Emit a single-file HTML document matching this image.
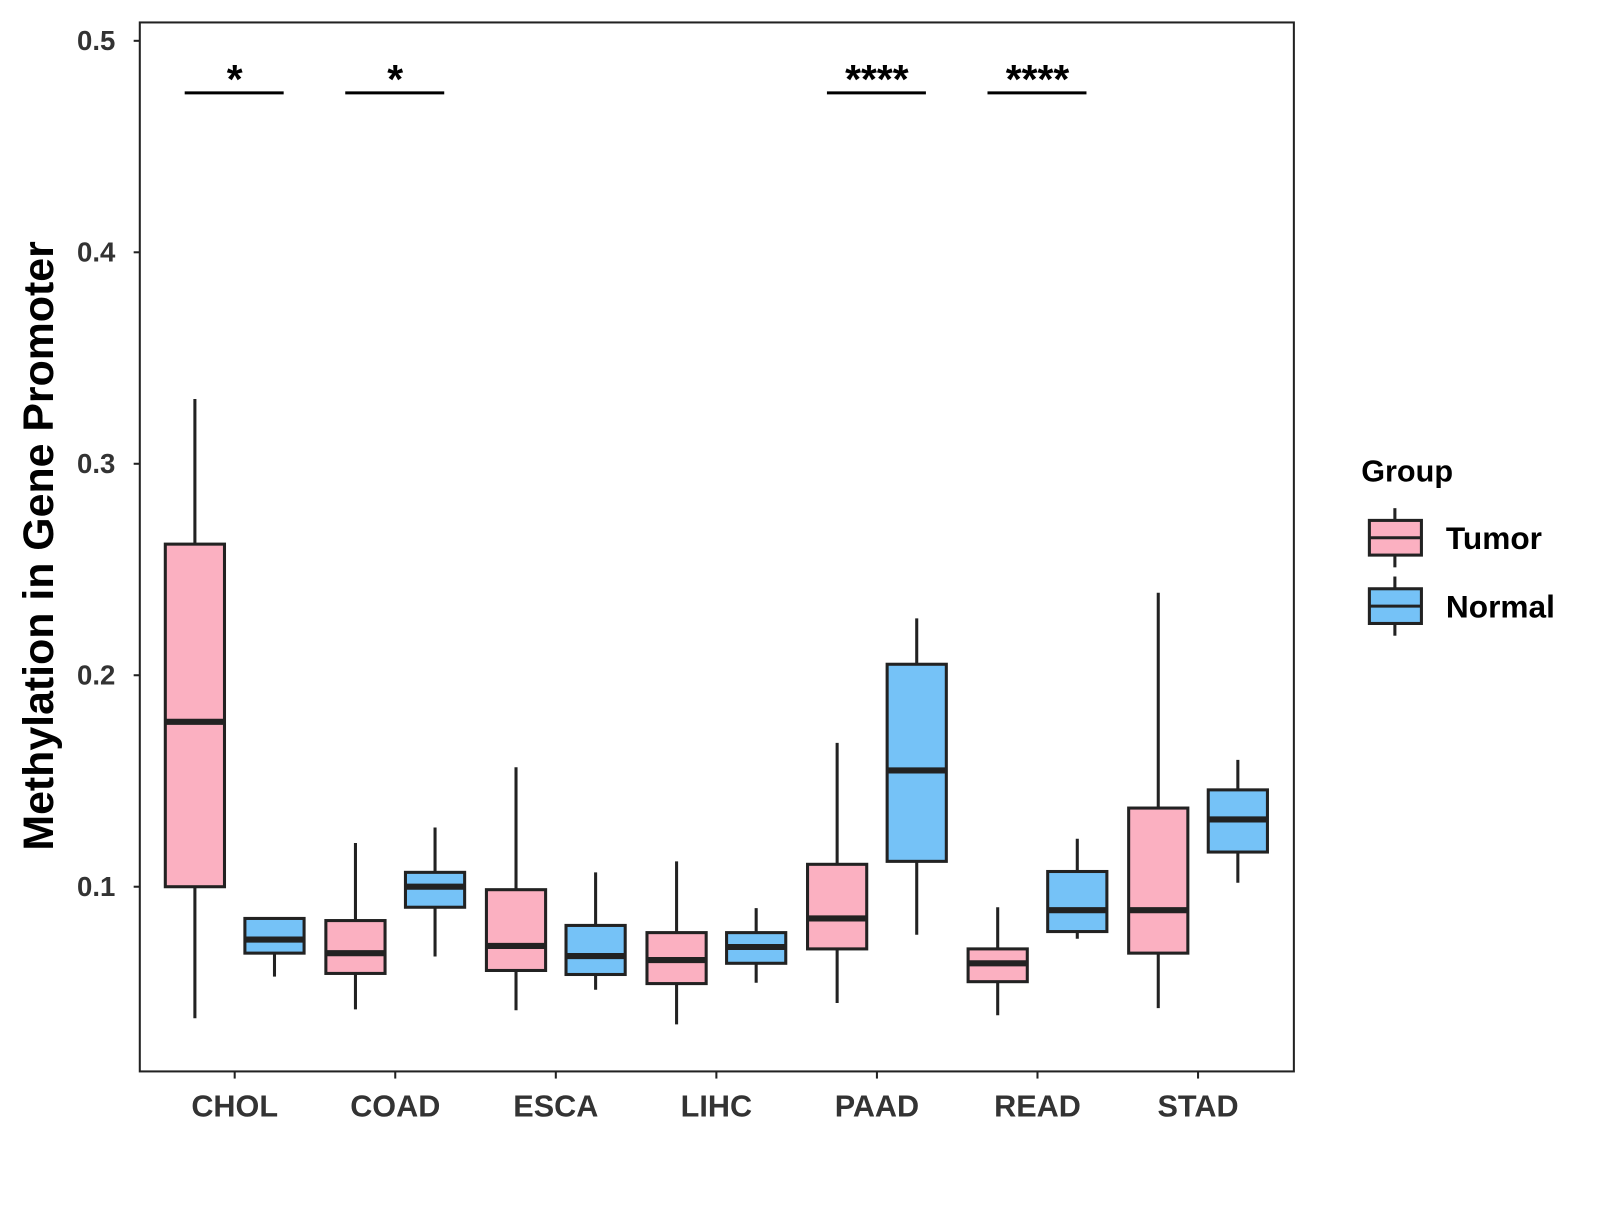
<!DOCTYPE html>
<html><head><meta charset="utf-8"><style>
body{margin:0;background:#fff}
text{font-family:"Liberation Sans",Arial,sans-serif;font-weight:bold}
</style></head><body>
<svg id="chart" width="1600" height="1200" xmlns="http://www.w3.org/2000/svg">
<g transform="scale(1.0204)">
<rect x="137" y="22" width="1131" height="1028" fill="#fff" stroke="#222" stroke-width="2"/>
<g id="marks"></g>
<text x="38" y="535" font-size="42" fill="#000" text-anchor="middle" dominant-baseline="central" transform="rotate(-90 38 535)">Methylation in Gene Promoter</text>
<g>
<text x="1334" y="472" font-size="30" fill="#000">Group</text>
<g>
<line x1="1367" y1="498" x2="1367" y2="556" stroke="#222" stroke-width="3"/>
<rect x="1342" y="510" width="51" height="34" fill="#FBB0C1" stroke="#222" stroke-width="3"/>
<line x1="1342" y1="527" x2="1393" y2="527" stroke="#222" stroke-width="3"/>
<text x="1417" y="538" font-size="31" fill="#000">Tumor</text></g>
<g>
<line x1="1367" y1="565" x2="1367" y2="623" stroke="#222" stroke-width="3"/>
<rect x="1342" y="577" width="51" height="34" fill="#75C2F7" stroke="#222" stroke-width="3"/>
<line x1="1342" y1="594" x2="1393" y2="594" stroke="#222" stroke-width="3"/>
<text x="1417" y="605" font-size="31" fill="#000">Normal</text></g>
</g>
</g>
</svg>
<script>
const categories=["CHOL","COAD","ESCA","LIHC","PAAD","READ","STAD"];
// [lowWhisker, Q1, median, Q3, highWhisker]
const tumorStats=[[0.0378,0.1,0.178,0.262,0.3306],[0.042,0.059,0.0686,0.084,0.1207],[0.0416,0.0604,0.072,0.0986,0.1565],[0.0349,0.0542,0.0653,0.0783,0.112],[0.045,0.0706,0.085,0.1106,0.168],[0.0392,0.0551,0.0638,0.0706,0.0903],[0.0426,0.0686,0.0889,0.1372,0.239]];
const normalStats=[[0.0575,0.0686,0.075,0.085,0.085],[0.067,0.0903,0.1,0.1068,0.128],[0.0513,0.0585,0.0672,0.0817,0.1068],[0.0546,0.0638,0.0715,0.0783,0.0899],[0.0773,0.112,0.155,0.2052,0.2269],[0.0754,0.0788,0.0889,0.1072,0.1227],[0.1019,0.1164,0.1318,0.1458,0.16]];
const significance=["*","*","","","****","****",""];
const yTicks=[0.1,0.2,0.3,0.4,0.5];
const NS="http://www.w3.org/2000/svg";
const y=v=>869-(v-0.1)*2072.5;
const x=i=>230+i*157.35;
const g=document.getElementById('marks');
function mk(t,a,p){const e=document.createElementNS(NS,t);for(const k in a)e.setAttribute(k,a[k]);(p||g).appendChild(e);return e;}
yTicks.forEach(v=>{
 const tk=mk('line',{x1:131,x2:137,y1:y(v),y2:y(v),stroke:'#222','stroke-width':2});
 
 
 const t=mk('text',{x:113,y:y(v)+9,'font-size':27,fill:'#333','text-anchor':'end'});t.textContent=v.toFixed(1);
 
 
});
function box(cx,s,fill,name){
 const gg=mk('g',{});
 
 
 mk('line',{x1:cx,x2:cx,y1:y(s[0]),y2:y(s[4]),stroke:'#222','stroke-width':3},gg);
 mk('rect',{x:cx-29,y:y(s[3]),width:58,height:y(s[1])-y(s[3]),fill:fill,stroke:'#222','stroke-width':3},gg);
 mk('line',{x1:cx-29,x2:cx+29,y1:y(s[2]),y2:y(s[2]),stroke:'#222','stroke-width':6},gg);
}
categories.forEach((c,i)=>{
 box(x(i)-39,tumorStats[i],'#FBB0C1','box-tumor-'+c.toLowerCase());
 box(x(i)+39,normalStats[i],'#75C2F7','box-normal-'+c.toLowerCase());
 const tk=mk('line',{x1:x(i),x2:x(i),y1:1050,y2:1057,stroke:'#222','stroke-width':2});
 
 
 const t=mk('text',{x:x(i),y:1094,'font-size':30,fill:'#333','text-anchor':'middle'});t.textContent=c;
 
 
 if(significance[i]){
  const l=mk('line',{x1:x(i)-49,x2:x(i)+48,y1:91,y2:91,stroke:'#000','stroke-width':3});
  
  
  const s=mk('text',{x:x(i),y:91,'font-size':40,fill:'#000','text-anchor':'middle'});s.textContent=significance[i];
  
  
 }
});
</script>
</body></html>
